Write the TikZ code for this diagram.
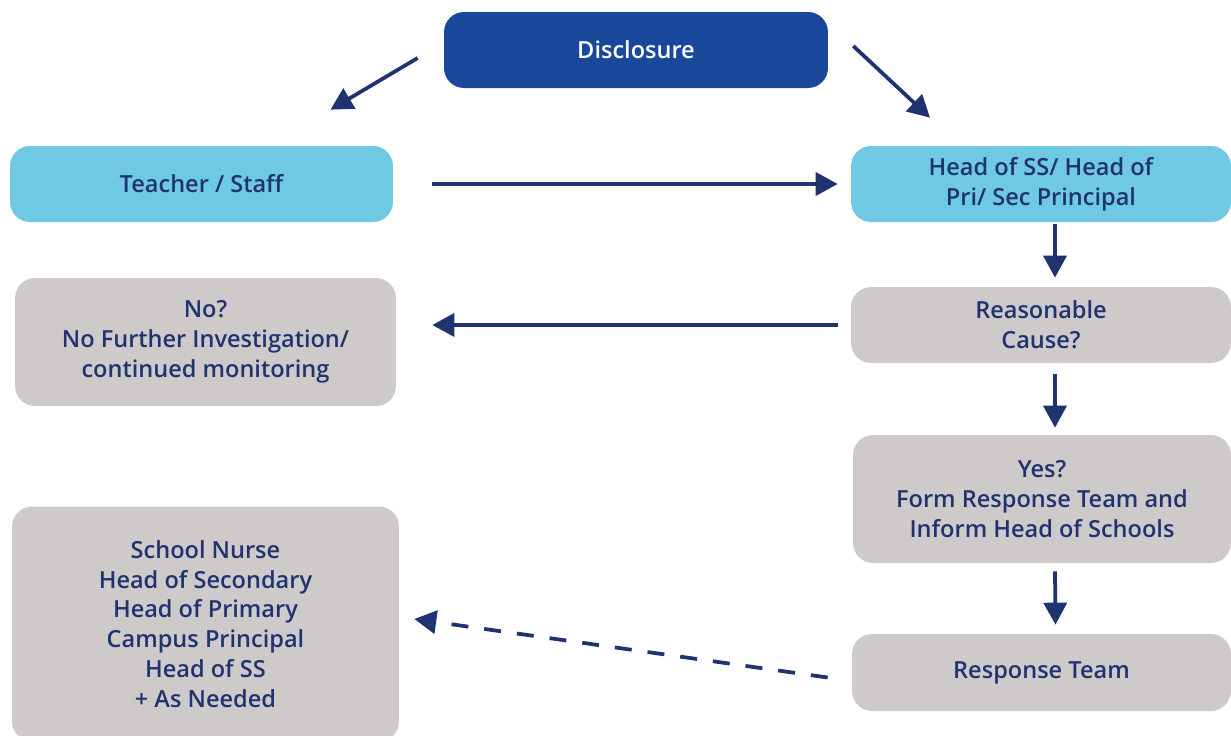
\documentclass[tikz,border=0pt]{standalone}
\usepackage{fontspec}
\setmainfont{Open Sans}
\IfFontExistsTF{Open Sans SemiBold}
  {\newfontfamily\boxfont{Open Sans SemiBold}}
  {\IfFontExistsTF{Open Sans Semibold}
    {\newfontfamily\boxfont{Open Sans Semibold}}
    {\newfontfamily\boxfont{Open Sans}[FakeBold=2.5]}}
\usetikzlibrary{arrows.meta}

\definecolor{discblue}{HTML}{19479A}
\definecolor{staffblue}{HTML}{70C9E3}
\definecolor{boxgray}{HTML}{CFCACA}
\definecolor{navy}{HTML}{1F3370}

\begin{document}
\begin{tikzpicture}[
    x=0.02cm, y=-0.02cm,
    box/.style={rectangle, rounded corners=0.4cm, inner sep=0pt, align=center, text=navy, font=\boxfont\fontsize{13.4}{17}\selectfont},
    arrow/.style={-{Triangle[length=0.44cm, width=0.46cm]}, line width=0.075cm, draw=navy}
]
\useasboundingbox (0,0) rectangle (1231,735);

\node[box, fill=discblue, text=white, minimum width=7.68cm, minimum height=1.52cm] (disc) at (636,50) {Disclosure};
\node[box, fill=staffblue, minimum width=7.66cm, minimum height=1.52cm] (staff) at (201.5,184) {Teacher / Staff};
\node[box, fill=staffblue, minimum width=7.6cm, minimum height=1.52cm] (head) at (1041,184) {Head of SS/ Head of\\Pri/ Sec Principal};
\node[box, fill=boxgray, minimum width=7.62cm, minimum height=2.56cm] (nocause) at (205.5,342) {No?\\No Further Investigation/\\continued monitoring};
\node[box, fill=boxgray, minimum width=7.6cm, minimum height=1.52cm] (cause) at (1041,325) {Reasonable\\Cause?};
\node[box, fill=boxgray, minimum width=7.56cm, minimum height=2.56cm] (yes) at (1042,499) {Yes?\\Form Response Team and\\Inform Head of Schools};
\node[box, fill=boxgray, minimum width=7.74cm, minimum height=4.7cm] (members) at (205.5,624) {School Nurse\\Head of Secondary\\Head of Primary\\Campus Principal\\Head of SS\\+ As Needed};
\node[box, fill=boxgray, minimum width=7.58cm, minimum height=1.54cm] (team) at (1041.5,672.5) {Response Team};

\draw[arrow] ([shift={(-26,8)}]disc.west) -- ([shift={(129,-36)}]staff.north);
\draw[arrow] ([shift={(25,-4)}]disc.east) -- ([shift={(-111,-28)}]head.north);
\draw[arrow, shorten <=0.78cm, shorten >=0.26cm] (staff) -- (head);
\draw[arrow] ([shift={(14,2)}]head.south) -- ([shift={(14,-9)}]cause.north);
\draw[arrow, shorten <=0.26cm, shorten >=0.72cm] (cause) -- (nocause.east |- cause);
\draw[arrow] ([shift={(14,11)}]cause.south) -- ([shift={(13,-7)}]yes.north);
\draw[arrow] ([shift={(13,8)}]yes.south) -- ([shift={(14,-9)}]team.north);
\draw[arrow, dashed, dash pattern=on 0.34cm off 0.32cm] ([shift={(-24,5)}]team.west) -- ([shift={(15,-5)}]members.east);
\end{tikzpicture}
\end{document}
